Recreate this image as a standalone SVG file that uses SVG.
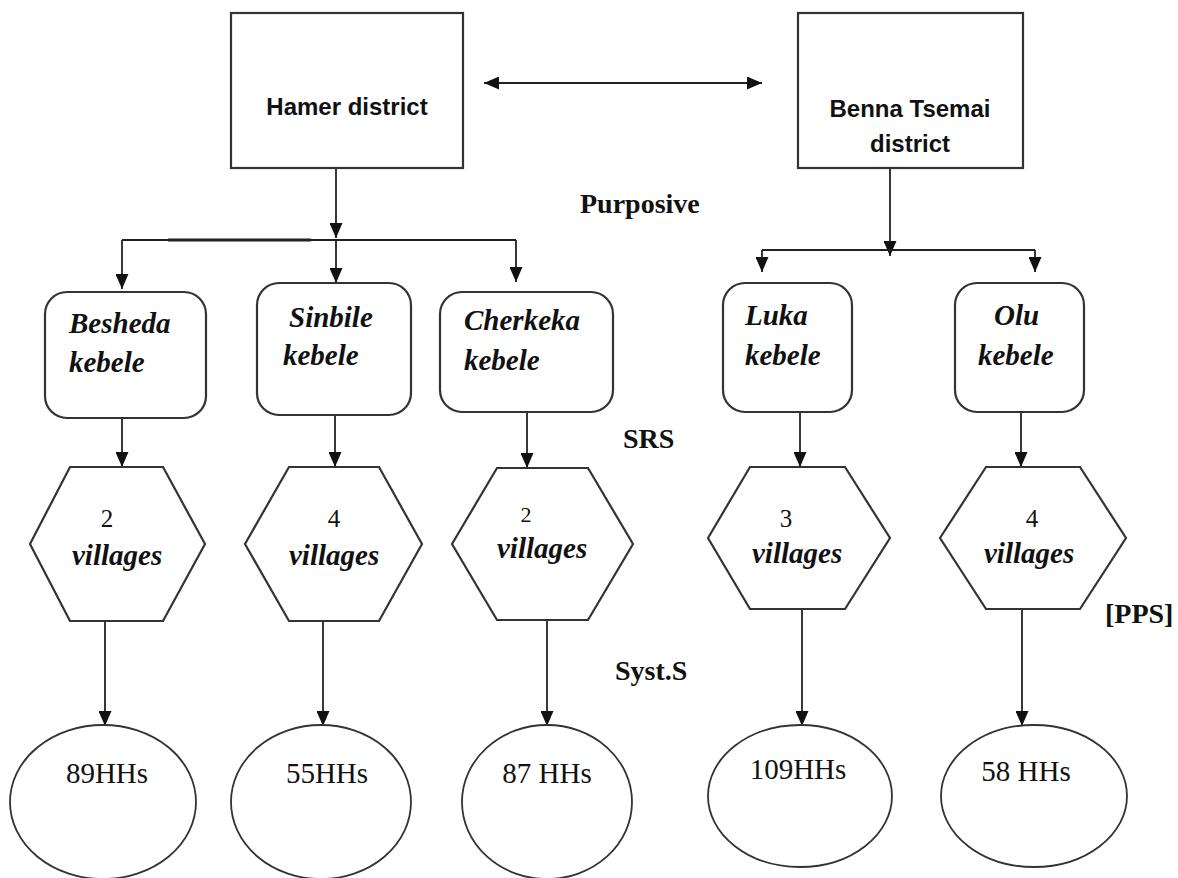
<svg xmlns="http://www.w3.org/2000/svg" width="1178" height="878" viewBox="0 0 1178 878">
<defs>
<marker id="ah" markerUnits="userSpaceOnUse" markerWidth="15" markerHeight="13" refX="15" refY="6.5" orient="auto-start-reverse">
<path d="M0,0 L15,6.5 L0,13 z" fill="#111"/>
</marker>
<style>
.box{fill:#fff;stroke:#333;stroke-width:2.2}
.ln{fill:none;stroke:#222;stroke-width:1.8}
.arr{fill:none;stroke:#222;stroke-width:1.8;marker-end:url(#ah)}
.dist{font-family:"Liberation Sans",Arial,sans-serif;font-weight:bold;font-size:24px;fill:#111;text-anchor:middle}
.keb{font-family:"Liberation Serif","Times New Roman",serif;font-weight:bold;font-style:italic;font-size:29px;fill:#111}
.num{font-family:"Liberation Serif","Times New Roman",serif;font-size:25px;fill:#111;text-anchor:middle}
.hh{font-family:"Liberation Serif","Times New Roman",serif;font-size:29px;fill:#111;text-anchor:middle}
.lab{font-family:"Liberation Serif","Times New Roman",serif;font-weight:bold;font-size:28px;fill:#111}
</style>
</defs>
<rect width="1178" height="878" fill="#fff"/>

<g id="connectors">
<line class="arr" x1="484" y1="83" x2="762" y2="83" marker-start="url(#ah)"/>
<line class="arr" x1="336" y1="168" x2="336" y2="238"/>
<line class="ln" x1="122" y1="240" x2="516" y2="240"/>
<line x1="168" y1="240" x2="311" y2="240" stroke="#222" stroke-width="3.2"/>
<line class="arr" x1="122" y1="240" x2="122" y2="289"/>
<line class="arr" x1="336" y1="240" x2="336" y2="283"/>
<line class="arr" x1="516" y1="240" x2="516" y2="282"/>
<line class="arr" x1="890" y1="168" x2="890" y2="256"/>
<line class="ln" x1="762" y1="250" x2="1035" y2="250"/>
<line class="arr" x1="762" y1="250" x2="762" y2="272"/>
<line class="arr" x1="1035" y1="250" x2="1035" y2="272"/>
<line class="arr" x1="122" y1="418" x2="122" y2="467"/>
<line class="arr" x1="335" y1="415" x2="335" y2="467"/>
<line class="arr" x1="527" y1="412" x2="527" y2="468"/>
<line class="arr" x1="800" y1="412" x2="800" y2="467"/>
<line class="arr" x1="1021" y1="412" x2="1021" y2="467"/>
<line class="arr" x1="105" y1="621" x2="105" y2="726"/>
<line class="arr" x1="323" y1="621" x2="323" y2="726"/>
<line class="arr" x1="547" y1="620" x2="547" y2="726"/>
<line class="arr" x1="802" y1="609" x2="802" y2="726"/>
<line class="arr" x1="1022" y1="609" x2="1022" y2="726"/>
</g>

<g id="hamer">
<rect class="box" x="231" y="13" width="232" height="155"/>
<text class="dist" x="347" y="115">Hamer district</text>
</g>
<g id="benna">
<rect class="box" x="798" y="13" width="225" height="155"/>
<text class="dist" x="910" y="117">Benna Tsemai</text>
<text class="dist" x="910" y="152">district</text>
</g>

<g id="besheda">
<rect class="box" x="45" y="292" width="161" height="126" rx="22"/>
<text class="keb" x="69" y="333">Besheda</text>
<text class="keb" x="69" y="372">kebele</text>
</g>
<g id="sinbile">
<rect class="box" x="257" y="283" width="154" height="132" rx="22"/>
<text class="keb" x="289" y="327">Sinbile</text>
<text class="keb" x="283" y="365">kebele</text>
</g>
<g id="cherkeka">
<rect class="box" x="440" y="292" width="173" height="120" rx="22"/>
<text class="keb" x="464" y="330">Cherkeka</text>
<text class="keb" x="464" y="370">kebele</text>
</g>
<g id="luka">
<rect class="box" x="723" y="283" width="129" height="129" rx="22"/>
<text class="keb" x="745" y="325">Luka</text>
<text class="keb" x="745" y="365">kebele</text>
</g>
<g id="olu">
<rect class="box" x="955" y="283" width="129" height="129" rx="22"/>
<text class="keb" x="994" y="325">Olu</text>
<text class="keb" x="978" y="365">kebele</text>
</g>

<g id="hex1">
<polygon class="box" points="30,544 70,467 163,467 205,544 163,621 70,621"/>
<text class="num" x="107" y="527">2</text>
<text class="keb" x="72" y="565">villages</text>
</g>
<g id="hex2">
<polygon class="box" points="245,544 289,467 379,467 422,544 379,621 289,621"/>
<text class="num" x="334" y="527">4</text>
<text class="keb" x="289" y="565">villages</text>
</g>
<g id="hex3">
<polygon class="box" points="452,544 497,468 588,468 633,544 588,620 497,620"/>
<text class="num" x="526" y="522" style="font-size:22px">2</text>
<text class="keb" x="497" y="558">villages</text>
</g>
<g id="hex4">
<polygon class="box" points="708,538 750,467 845,467 890,538 845,609 750,609"/>
<text class="num" x="786" y="527">3</text>
<text class="keb" x="752" y="563">villages</text>
</g>
<g id="hex5">
<polygon class="box" points="940,538 986,467 1080,467 1126,538 1080,609 986,609"/>
<text class="num" x="1032" y="527">4</text>
<text class="keb" x="984" y="563">villages</text>
</g>

<g id="hh1">
<ellipse class="box" cx="103" cy="802" rx="93" ry="77" style="stroke-width:1.8"/>
<text class="hh" x="107" y="783">89HHs</text>
</g>
<g id="hh2">
<ellipse class="box" cx="321" cy="802" rx="90" ry="77" style="stroke-width:1.8"/>
<text class="hh" x="327" y="783">55HHs</text>
</g>
<g id="hh3">
<ellipse class="box" cx="547" cy="802" rx="85" ry="77" style="stroke-width:1.8"/>
<text class="hh" x="547" y="783">87 HHs</text>
</g>
<g id="hh4">
<ellipse class="box" cx="800" cy="796" rx="92" ry="71" style="stroke-width:1.8"/>
<text class="hh" x="798" y="779">109HHs</text>
</g>
<g id="hh5">
<ellipse class="box" cx="1034" cy="796" rx="93" ry="71" style="stroke-width:1.8"/>
<text class="hh" x="1026" y="781">58 HHs</text>
</g>

<g id="labels">
<text class="lab" x="580" y="213">Purposive</text>
<text class="lab" x="623" y="448">SRS</text>
<text class="lab" x="1105" y="623">[PPS]</text>
<text class="lab" x="615" y="680">Syst.S</text>
</g>
</svg>
